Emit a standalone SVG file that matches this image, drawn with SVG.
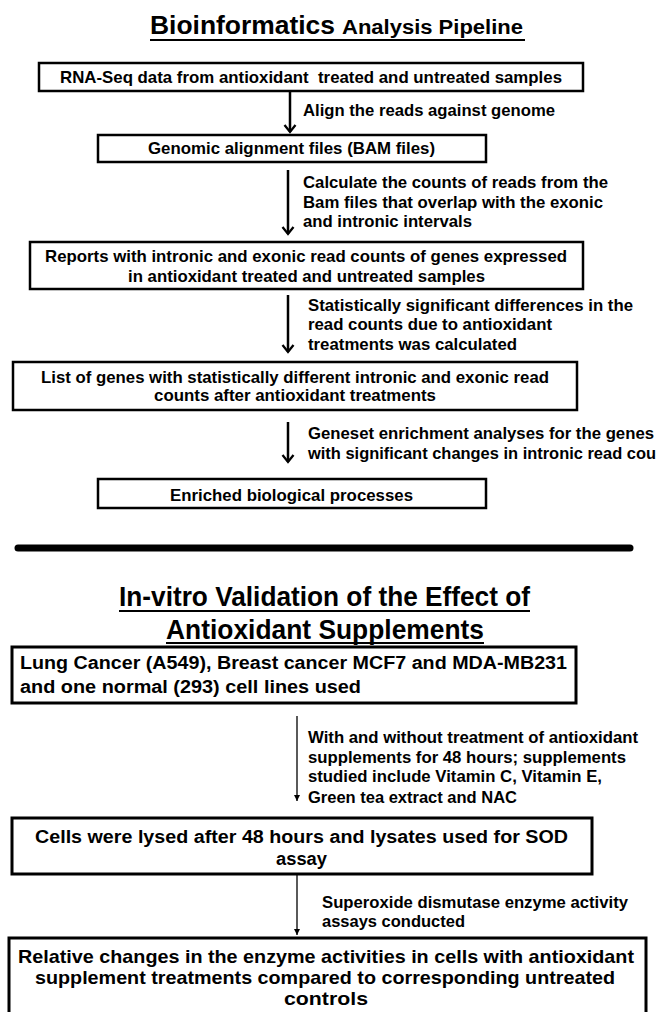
<svg xmlns="http://www.w3.org/2000/svg" width="665" height="1012" viewBox="0 0 665 1012">
<style>
.box{fill:#fff;stroke:#000;stroke-width:2.5}
.box2{fill:#fff;stroke:#000;stroke-width:3}
.t{font-family:"Liberation Sans",Arial,sans-serif;font-weight:bold;fill:#000}
.f16{font-size:17px}
.f18{font-size:18px}
.f19{font-size:19px}
.f26{font-size:27px}
.ul{stroke:#000;stroke-width:2}
.thick{stroke:#000;stroke-width:2.5;fill:none}
.thin{stroke:#000;stroke-width:1.3;fill:none}
</style>
<defs>
<marker id="chev" markerUnits="userSpaceOnUse" orient="auto" overflow="visible" markerWidth="16" markerHeight="16" refX="0" refY="0">
<path d="M-7,-5.5 L0,0 L-7,5.5" fill="none" stroke="#000" stroke-width="2.3" stroke-linejoin="miter"/>
</marker>
<marker id="tri" markerUnits="userSpaceOnUse" orient="auto" overflow="visible" markerWidth="10" markerHeight="10" refX="0" refY="0">
<path d="M-6,-3 L0,0 L-6,3 Z" fill="#000"/>
</marker>
</defs>
<rect width="665" height="1012" fill="#fff"/>

<g id="title1">
<text class="t" x="150" y="34" font-size="26" textLength="185" lengthAdjust="spacingAndGlyphs">Bioinformatics</text>
<text class="t" x="342" y="34" font-size="20" textLength="181" lengthAdjust="spacingAndGlyphs">Analysis Pipeline</text>
<line class="ul" x1="150" y1="40" x2="525" y2="40"/>
</g>

<g id="connectors">
<line class="thick" x1="290" y1="91" x2="290" y2="132" marker-end="url(#chev)"/>
<line class="thick" x1="288" y1="170" x2="288" y2="234" marker-end="url(#chev)"/>
<line class="thick" x1="288" y1="295" x2="288" y2="352" marker-end="url(#chev)"/>
<line class="thick" x1="288" y1="422" x2="288" y2="462" marker-end="url(#chev)"/>
<line class="thin" x1="297" y1="716" x2="297" y2="801" marker-end="url(#tri)"/>
<line class="thin" x1="297" y1="875" x2="297" y2="935" marker-end="url(#tri)"/>
</g>

<g id="label1">
<text class="t f16" x="303" y="116" textLength="252" lengthAdjust="spacingAndGlyphs">Align the reads against genome</text>
</g>
<g id="label2">
<text class="t f16" x="303" y="188" textLength="305" lengthAdjust="spacingAndGlyphs">Calculate the counts of reads from the</text>
<text class="t f16" x="303" y="208" textLength="300" lengthAdjust="spacingAndGlyphs">Bam files that overlap with the exonic</text>
<text class="t f16" x="303" y="227" textLength="169" lengthAdjust="spacingAndGlyphs">and intronic intervals</text>
</g>
<g id="label3">
<text class="t f16" x="308" y="311" textLength="325" lengthAdjust="spacingAndGlyphs">Statistically significant differences in the</text>
<text class="t f16" x="308" y="330" textLength="244" lengthAdjust="spacingAndGlyphs">read counts due to antioxidant</text>
<text class="t f16" x="308" y="350" textLength="209" lengthAdjust="spacingAndGlyphs">treatments was calculated</text>
</g>
<g id="label4">
<text class="t f16" x="308" y="439" textLength="346" lengthAdjust="spacingAndGlyphs">Geneset enrichment analyses for the genes</text>
<text class="t" x="308" y="459" font-size="16" textLength="348" lengthAdjust="spacingAndGlyphs">with significant changes in intronic read cou</text>
</g>

<g id="node1">
<rect class="box" x="39" y="63" width="544" height="28"/>
<text class="t f16" x="60" y="83" textLength="502" lengthAdjust="spacingAndGlyphs" xml:space="preserve">RNA-Seq data from antioxidant  treated and untreated samples</text>
</g>
<g id="node2">
<rect class="box" x="98" y="135" width="388" height="27"/>
<text class="t f16" x="148" y="154" textLength="287" lengthAdjust="spacingAndGlyphs">Genomic alignment files (BAM files)</text>
</g>
<g id="node3">
<rect class="box" x="30" y="242" width="553" height="47"/>
<text class="t f16" x="45" y="262" textLength="522" lengthAdjust="spacingAndGlyphs">Reports with intronic and exonic read counts of genes expressed</text>
<text class="t f16" x="128" y="282" textLength="357" lengthAdjust="spacingAndGlyphs">in antioxidant treated and untreated samples</text>
</g>
<g id="node4">
<rect class="box" x="13" y="362" width="564" height="48"/>
<text class="t f16" x="41" y="383" textLength="508" lengthAdjust="spacingAndGlyphs">List of genes with statistically different intronic and exonic read</text>
<text class="t f16" x="154" y="401" textLength="282" lengthAdjust="spacingAndGlyphs">counts after antioxidant treatments</text>
</g>
<g id="node5">
<rect class="box" x="98" y="479" width="388" height="29"/>
<text class="t f16" x="170" y="501" textLength="243" lengthAdjust="spacingAndGlyphs">Enriched biological processes</text>
</g>

<g id="separator">
<line x1="18" y1="548" x2="630" y2="548" stroke="#000" stroke-width="7" stroke-linecap="round"/>
</g>

<g id="title2">
<text class="t f26" x="119" y="606" textLength="411" lengthAdjust="spacingAndGlyphs">In-vitro Validation of the Effect of</text>
<line class="ul" x1="119" y1="611" x2="530" y2="611"/>
<text class="t f26" x="166" y="639" textLength="318" lengthAdjust="spacingAndGlyphs">Antioxidant Supplements</text>
<line class="ul" x1="166" y1="643" x2="484" y2="643"/>
</g>

<g id="node6">
<rect class="box2" x="12" y="647" width="564" height="56"/>
<text class="t f18" x="20" y="669" textLength="547" lengthAdjust="spacingAndGlyphs">Lung Cancer (A549), Breast cancer MCF7 and MDA-MB231</text>
<text class="t f18" x="20" y="693" textLength="341" lengthAdjust="spacingAndGlyphs">and one normal (293) cell lines used</text>
</g>
<g id="label6">
<text class="t f16" x="308" y="743" textLength="330" lengthAdjust="spacingAndGlyphs">With and without treatment of antioxidant</text>
<text class="t f16" x="308" y="763" textLength="318" lengthAdjust="spacingAndGlyphs">supplements for 48 hours; supplements</text>
<text class="t f16" x="308" y="782" textLength="294" lengthAdjust="spacingAndGlyphs">studied include Vitamin C, Vitamin E,</text>
<text class="t f16" x="308" y="803" textLength="209" lengthAdjust="spacingAndGlyphs">Green tea extract and NAC</text>
</g>
<g id="node7">
<rect class="box2" x="12" y="818" width="580" height="56"/>
<text class="t f18" x="35" y="843" textLength="533" lengthAdjust="spacingAndGlyphs">Cells were lysed after 48 hours and lysates used for SOD</text>
<text class="t f18" x="276" y="865" textLength="51" lengthAdjust="spacingAndGlyphs">assay</text>
</g>
<g id="label7">
<text class="t f16" x="322" y="908" textLength="306" lengthAdjust="spacingAndGlyphs">Superoxide dismutase enzyme activity</text>
<text class="t f16" x="322" y="927" textLength="143" lengthAdjust="spacingAndGlyphs">assays conducted</text>
</g>
<g id="node8">
<rect class="box2" x="9" y="938" width="637" height="84"/>
<text class="t f19" x="18" y="963" textLength="616" lengthAdjust="spacingAndGlyphs">Relative changes in the enzyme activities in cells with antioxidant</text>
<text class="t f19" x="35" y="984" textLength="580" lengthAdjust="spacingAndGlyphs">supplement treatments compared to corresponding untreated</text>
<text class="t f19" x="284" y="1005" textLength="84" lengthAdjust="spacingAndGlyphs">controls</text>
</g>
</svg>
